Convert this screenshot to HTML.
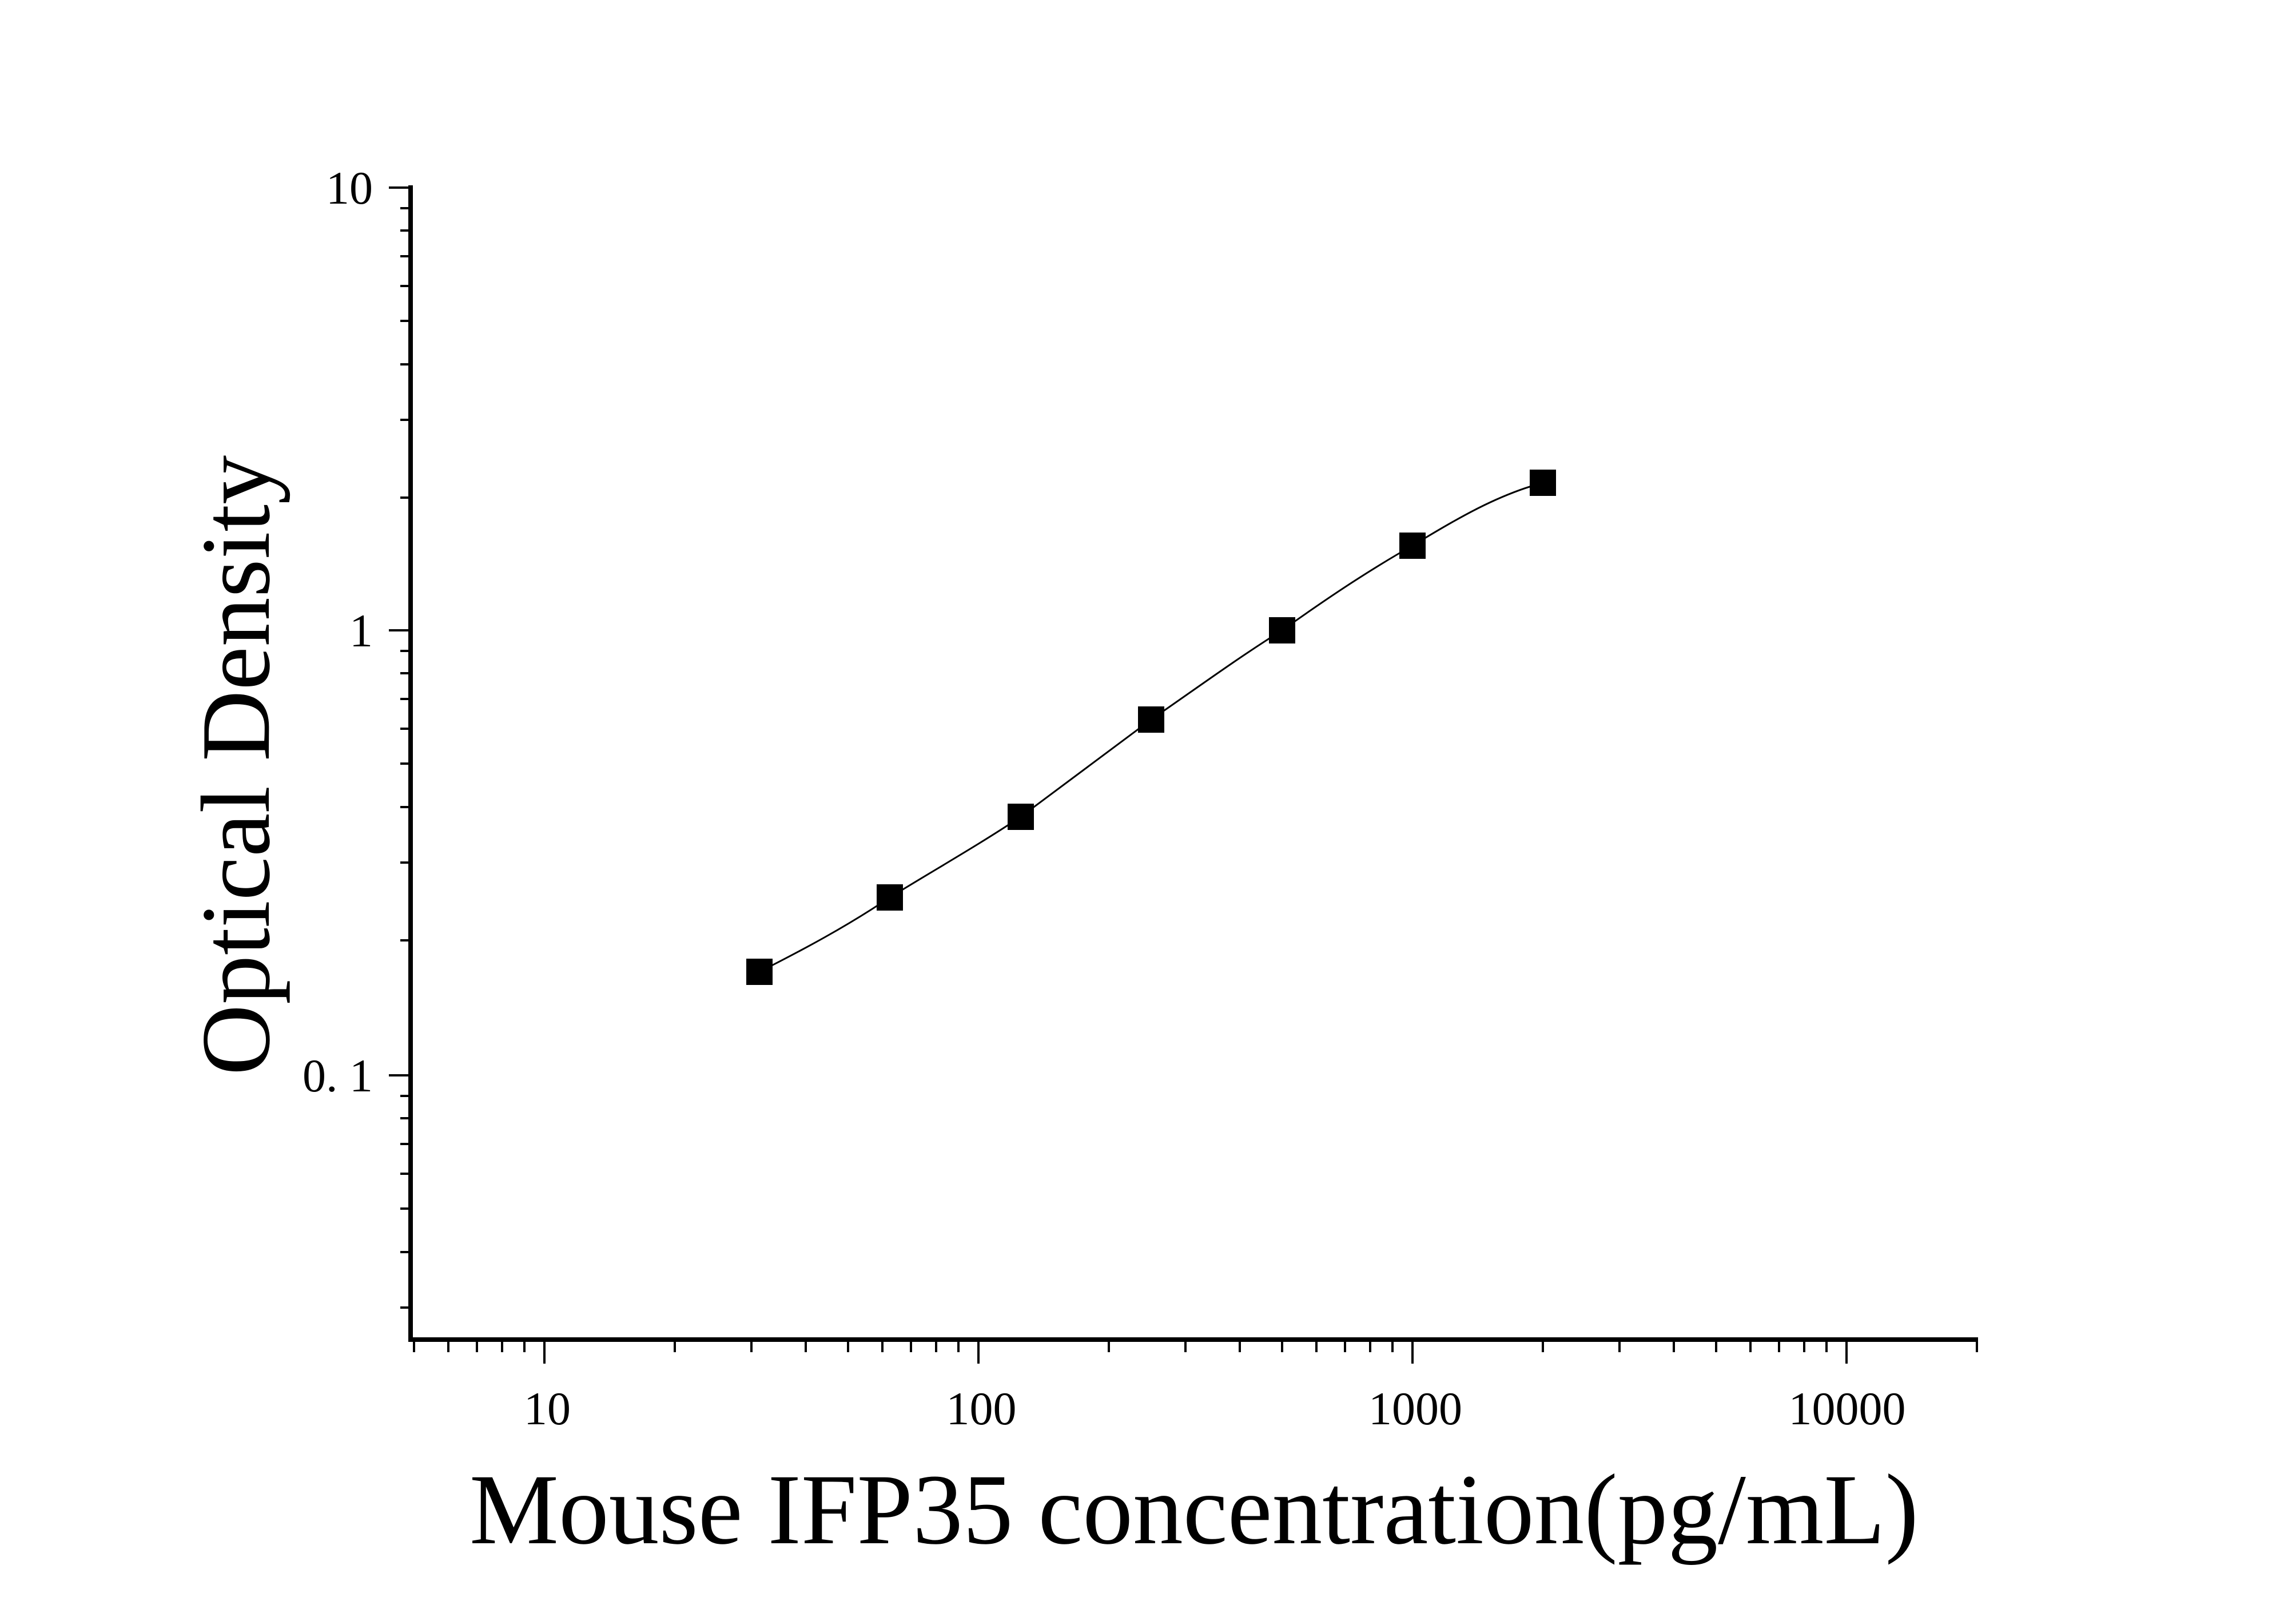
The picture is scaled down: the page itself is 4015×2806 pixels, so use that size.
<!DOCTYPE html>
<html><head><meta charset="utf-8"><style>html,body{margin:0;padding:0;background:#fff}svg{display:block}</style></head>
<body>
<svg width="4015" height="2806" viewBox="0 0 4015 2806" xmlns="http://www.w3.org/2000/svg" font-family="Liberation Serif, serif">
<rect width="4015" height="2806" fill="#fff"/>
<g stroke="#000" stroke-width="4">
<line x1="680" y1="328" x2="718" y2="328"/><line x1="680" y1="1102" x2="718" y2="1102"/><line x1="680" y1="1880" x2="718" y2="1880"/>
<line x1="700" y1="364" x2="718" y2="364"/><line x1="700" y1="403" x2="718" y2="403"/><line x1="700" y1="448" x2="718" y2="448"/><line x1="700" y1="500" x2="718" y2="500"/><line x1="700" y1="561" x2="718" y2="561"/><line x1="700" y1="637" x2="718" y2="637"/><line x1="700" y1="734" x2="718" y2="734"/><line x1="700" y1="870" x2="718" y2="870"/>
<line x1="700" y1="1138" x2="718" y2="1138"/><line x1="700" y1="1177" x2="718" y2="1177"/><line x1="700" y1="1222" x2="718" y2="1222"/><line x1="700" y1="1274" x2="718" y2="1274"/><line x1="700" y1="1335" x2="718" y2="1335"/><line x1="700" y1="1411" x2="718" y2="1411"/><line x1="700" y1="1508" x2="718" y2="1508"/><line x1="700" y1="1644" x2="718" y2="1644"/>
<line x1="700" y1="1916" x2="718" y2="1916"/><line x1="700" y1="1955" x2="718" y2="1955"/><line x1="700" y1="2000" x2="718" y2="2000"/><line x1="700" y1="2052" x2="718" y2="2052"/><line x1="700" y1="2113" x2="718" y2="2113"/><line x1="700" y1="2189" x2="718" y2="2189"/><line x1="700" y1="2286" x2="718" y2="2286"/>
<line x1="952" y1="2342" x2="952" y2="2384"/><line x1="1711" y1="2342" x2="1711" y2="2384"/><line x1="2470" y1="2342" x2="2470" y2="2384"/><line x1="3229" y1="2342" x2="3229" y2="2384"/>
<line x1="724" y1="2342" x2="724" y2="2364"/><line x1="784" y1="2342" x2="784" y2="2364"/><line x1="834" y1="2342" x2="834" y2="2364"/><line x1="878" y1="2342" x2="878" y2="2364"/><line x1="917" y1="2342" x2="917" y2="2364"/>
<line x1="1180" y1="2342" x2="1180" y2="2364"/><line x1="1314" y1="2342" x2="1314" y2="2364"/><line x1="1409" y1="2342" x2="1409" y2="2364"/><line x1="1483" y1="2342" x2="1483" y2="2364"/><line x1="1543" y1="2342" x2="1543" y2="2364"/><line x1="1593" y1="2342" x2="1593" y2="2364"/><line x1="1637" y1="2342" x2="1637" y2="2364"/><line x1="1676" y1="2342" x2="1676" y2="2364"/>
<line x1="1939" y1="2342" x2="1939" y2="2364"/><line x1="2073" y1="2342" x2="2073" y2="2364"/><line x1="2168" y1="2342" x2="2168" y2="2364"/><line x1="2242" y1="2342" x2="2242" y2="2364"/><line x1="2302" y1="2342" x2="2302" y2="2364"/><line x1="2352" y1="2342" x2="2352" y2="2364"/><line x1="2396" y1="2342" x2="2396" y2="2364"/><line x1="2435" y1="2342" x2="2435" y2="2364"/>
<line x1="2698" y1="2342" x2="2698" y2="2364"/><line x1="2832" y1="2342" x2="2832" y2="2364"/><line x1="2927" y1="2342" x2="2927" y2="2364"/><line x1="3001" y1="2342" x2="3001" y2="2364"/><line x1="3061" y1="2342" x2="3061" y2="2364"/><line x1="3111" y1="2342" x2="3111" y2="2364"/><line x1="3155" y1="2342" x2="3155" y2="2364"/><line x1="3194" y1="2342" x2="3194" y2="2364"/>
<line x1="3457" y1="2342" x2="3457" y2="2364"/>
</g>
<line x1="718" y1="324" x2="718" y2="2346" stroke="#000" stroke-width="8"/>
<line x1="714" y1="2342" x2="3459" y2="2342" stroke="#000" stroke-width="8"/>
<path d="M1328,1699 C1405,1660 1480,1620 1556,1569 C1632,1522 1710,1478 1785,1428 C1860,1372 1938,1314 2013,1258 C2090,1205 2165,1150 2242,1102 C2318,1048 2392,998 2470,954 C2550,905 2620,865 2698,844" fill="none" stroke="#000" stroke-width="3"/>
<g fill="#000">
<rect x="1305" y="1676" width="46" height="46"/><rect x="1533" y="1546" width="46" height="46"/><rect x="1762" y="1405" width="46" height="46"/><rect x="1990" y="1235" width="46" height="46"/><rect x="2219" y="1079" width="46" height="46"/><rect x="2447" y="931" width="46" height="46"/><rect x="2675" y="821" width="46" height="46"/>
</g>
<g font-size="82" text-anchor="end">
<text x="652" y="356">10</text>
<text x="652" y="1130">1</text>
<text x="652" y="1908" xml:space="preserve">0. 1</text>
</g>
<g font-size="82" text-anchor="middle">
<text x="957" y="2490">10</text>
<text x="1716" y="2490">100</text>
<text x="2475" y="2490">1000</text>
<text x="3230" y="2490">10000</text>
</g>
<text x="2088" y="2698" font-size="176" text-anchor="middle" textLength="2534" lengthAdjust="spacingAndGlyphs">Mouse IFP35 concentration(pg/mL)</text>
<text transform="translate(470,1338) rotate(-90)" font-size="172" text-anchor="middle">Optical Density</text>
</svg>
</body></html>
